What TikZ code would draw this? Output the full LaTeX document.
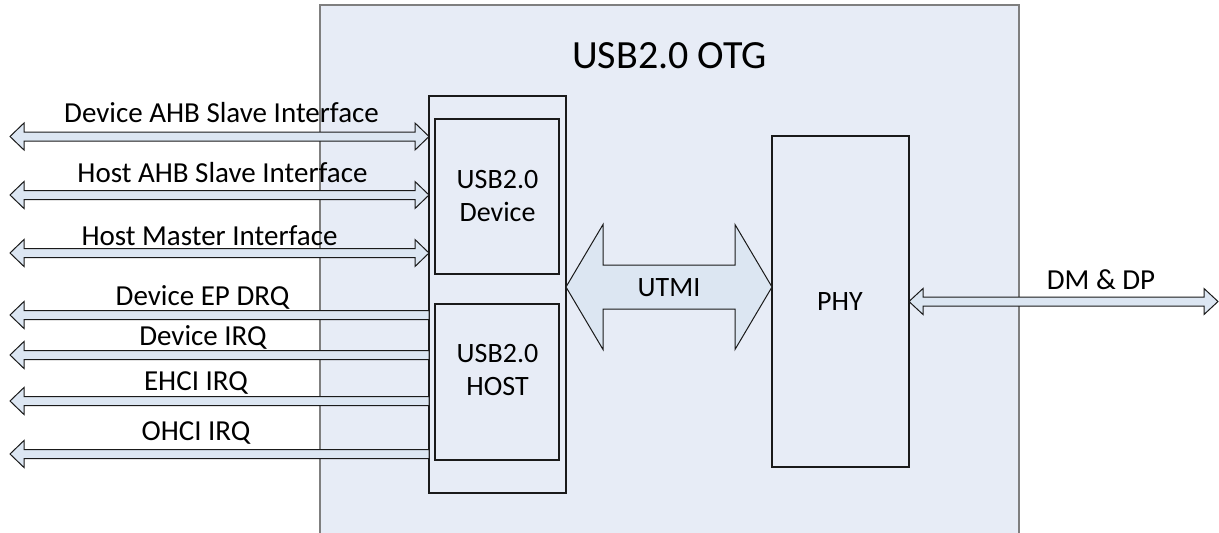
\documentclass[tikz,border=0pt]{standalone}
\usepackage{fontspec}
\setmainfont{Carlito}
\usepackage{xcolor}
\usetikzlibrary{calc,positioning}
\definecolor{otgfill}{HTML}{E7ECF6}
\definecolor{busfill}{HTML}{DCE6F2}
\definecolor{frame}{HTML}{7F7F7F}
\definecolor{ink}{HTML}{1A1A1A}

% double headed bus: from, to, half shaft, half head, head length
\newcommand{\busboth}[5]{%
  \path[bus] let \p1=(#1), \p2=(#2) in
    (\x1,\y1) -- (\x1+#5,\y1+#4) -- (\x1+#5,\y1+#3) -- (\x2-#5,\y1+#3)
    -- (\x2-#5,\y1+#4) -- (\x2,\y1) -- (\x2-#5,\y1-#4) -- (\x2-#5,\y1-#3)
    -- (\x1+#5,\y1-#3) -- (\x1+#5,\y1-#4) -- cycle;}
% single headed bus: tip, flat end, half shaft, half head, head length
\newcommand{\busout}[5]{%
  \path[bus] let \p1=(#1), \p2=(#2) in
    (\x1,\y1) -- (\x1+#5,\y1+#4) -- (\x1+#5,\y1+#3) -- (\x2,\y1+#3)
    -- (\x2,\y1-#3) -- (\x1+#5,\y1-#3) -- (\x1+#5,\y1-#4) -- cycle;}

\begin{document}
\begin{tikzpicture}[x=1pt, y=-1pt,
  block/.style={rectangle, draw=ink, fill=otgfill, line width=1.2pt,
    inner sep=0pt, outer sep=0pt},
  bus/.style={draw=ink, fill=busfill, line width=1pt, line join=miter},
  label/.style={font=\fontsize{29}{34}\selectfont, text=black, anchor=base,
    inner sep=0pt},
  inside/.style={font=\fontsize{28}{33}\selectfont, text=black, align=center,
    inner sep=0pt}
]
\useasboundingbox (0,0) rectangle (1219,533);

% outer block
\node[block, draw=frame, line width=1.6pt, minimum width=699pt,
  minimum height=555pt] (otg) at (669.5,282.5) {};
\node[label, font=\fontsize{40}{44}\selectfont] (title) at (669.5,68) {USB2.0 OTG};

% controller and phy
\node[block, minimum width=137pt, minimum height=397pt] (core) at (497.5,294.5) {};
\node[block, minimum width=124pt, minimum height=155pt] (dev) at (497,196.5) {};
\node[block, minimum width=124pt, minimum height=156pt] (host) at (497,382) {};
\node[block, minimum width=137pt, minimum height=331pt] (phy) at (840.5,301.5) {};

\node[inside] (devtext) at (497.5,196.5) {USB2.0\\Device};
\node[inside] (hosttext) at (497.5,370.5) {USB2.0\\HOST};
\node[label, font=\fontsize{28}{33}\selectfont] (phytext) at (840,310) {PHY};

% left side buses
\coordinate (ahbdev) at (10,136.5);
\coordinate (ahbhost) at (10,195);
\coordinate (master) at (10,253);
\coordinate (epdrq) at (10,315);
\coordinate (devirq) at (10,355);
\coordinate (ehciirq) at (10,401);
\coordinate (ohciirq) at (10,454);

\busboth{ahbdev}{ahbdev -| core.west}{4.5pt}{13.5pt}{14pt}
\busboth{ahbhost}{ahbhost -| core.west}{4.5pt}{13.5pt}{14pt}
\busboth{master}{master -| core.west}{4.5pt}{13.5pt}{14pt}
\busout{epdrq}{epdrq -| core.west}{4.5pt}{13.5pt}{14pt}
\busout{devirq}{devirq -| core.west}{4.5pt}{13.5pt}{14pt}
\busout{ehciirq}{ehciirq -| core.west}{4.5pt}{13.5pt}{14pt}
\busout{ohciirq}{ohciirq -| core.west}{4.5pt}{13.5pt}{14pt}

\node[label] (ahbdevtext) at (221.5,122.5) {Device AHB Slave Interface};
\node[label] (ahbhosttext) at (222.5,182.5) {Host AHB Slave Interface};
\node[label] (mastertext) at (209.5,245) {Host Master Interface};
\node[label] (epdrqtext) at (202.5,305) {Device EP DRQ};
\node[label] (devirqtext) at (203,345) {Device IRQ};
\node[label] (ehciirqtext) at (196,390.5) {EHCI IRQ};
\node[label] (ohciirqtext) at (196,440) {OHCI IRQ};

% utmi between controller and phy
\coordinate (utmimid) at (669,287);
\busboth{core.east |- utmimid}{phy.west |- utmimid}{22pt}{62.5pt}{37pt}
\node[label, font=\fontsize{28}{33}\selectfont] (utmi) at (669,296) {UTMI};

% usb lines
\coordinate (usb) at (1218,301.5);
\busboth{phy.east}{phy.east -| usb}{4.5pt}{13pt}{14pt}
\node[label] (dmdp) at (1101,289) {DM \& DP};

\end{tikzpicture}
\end{document}
